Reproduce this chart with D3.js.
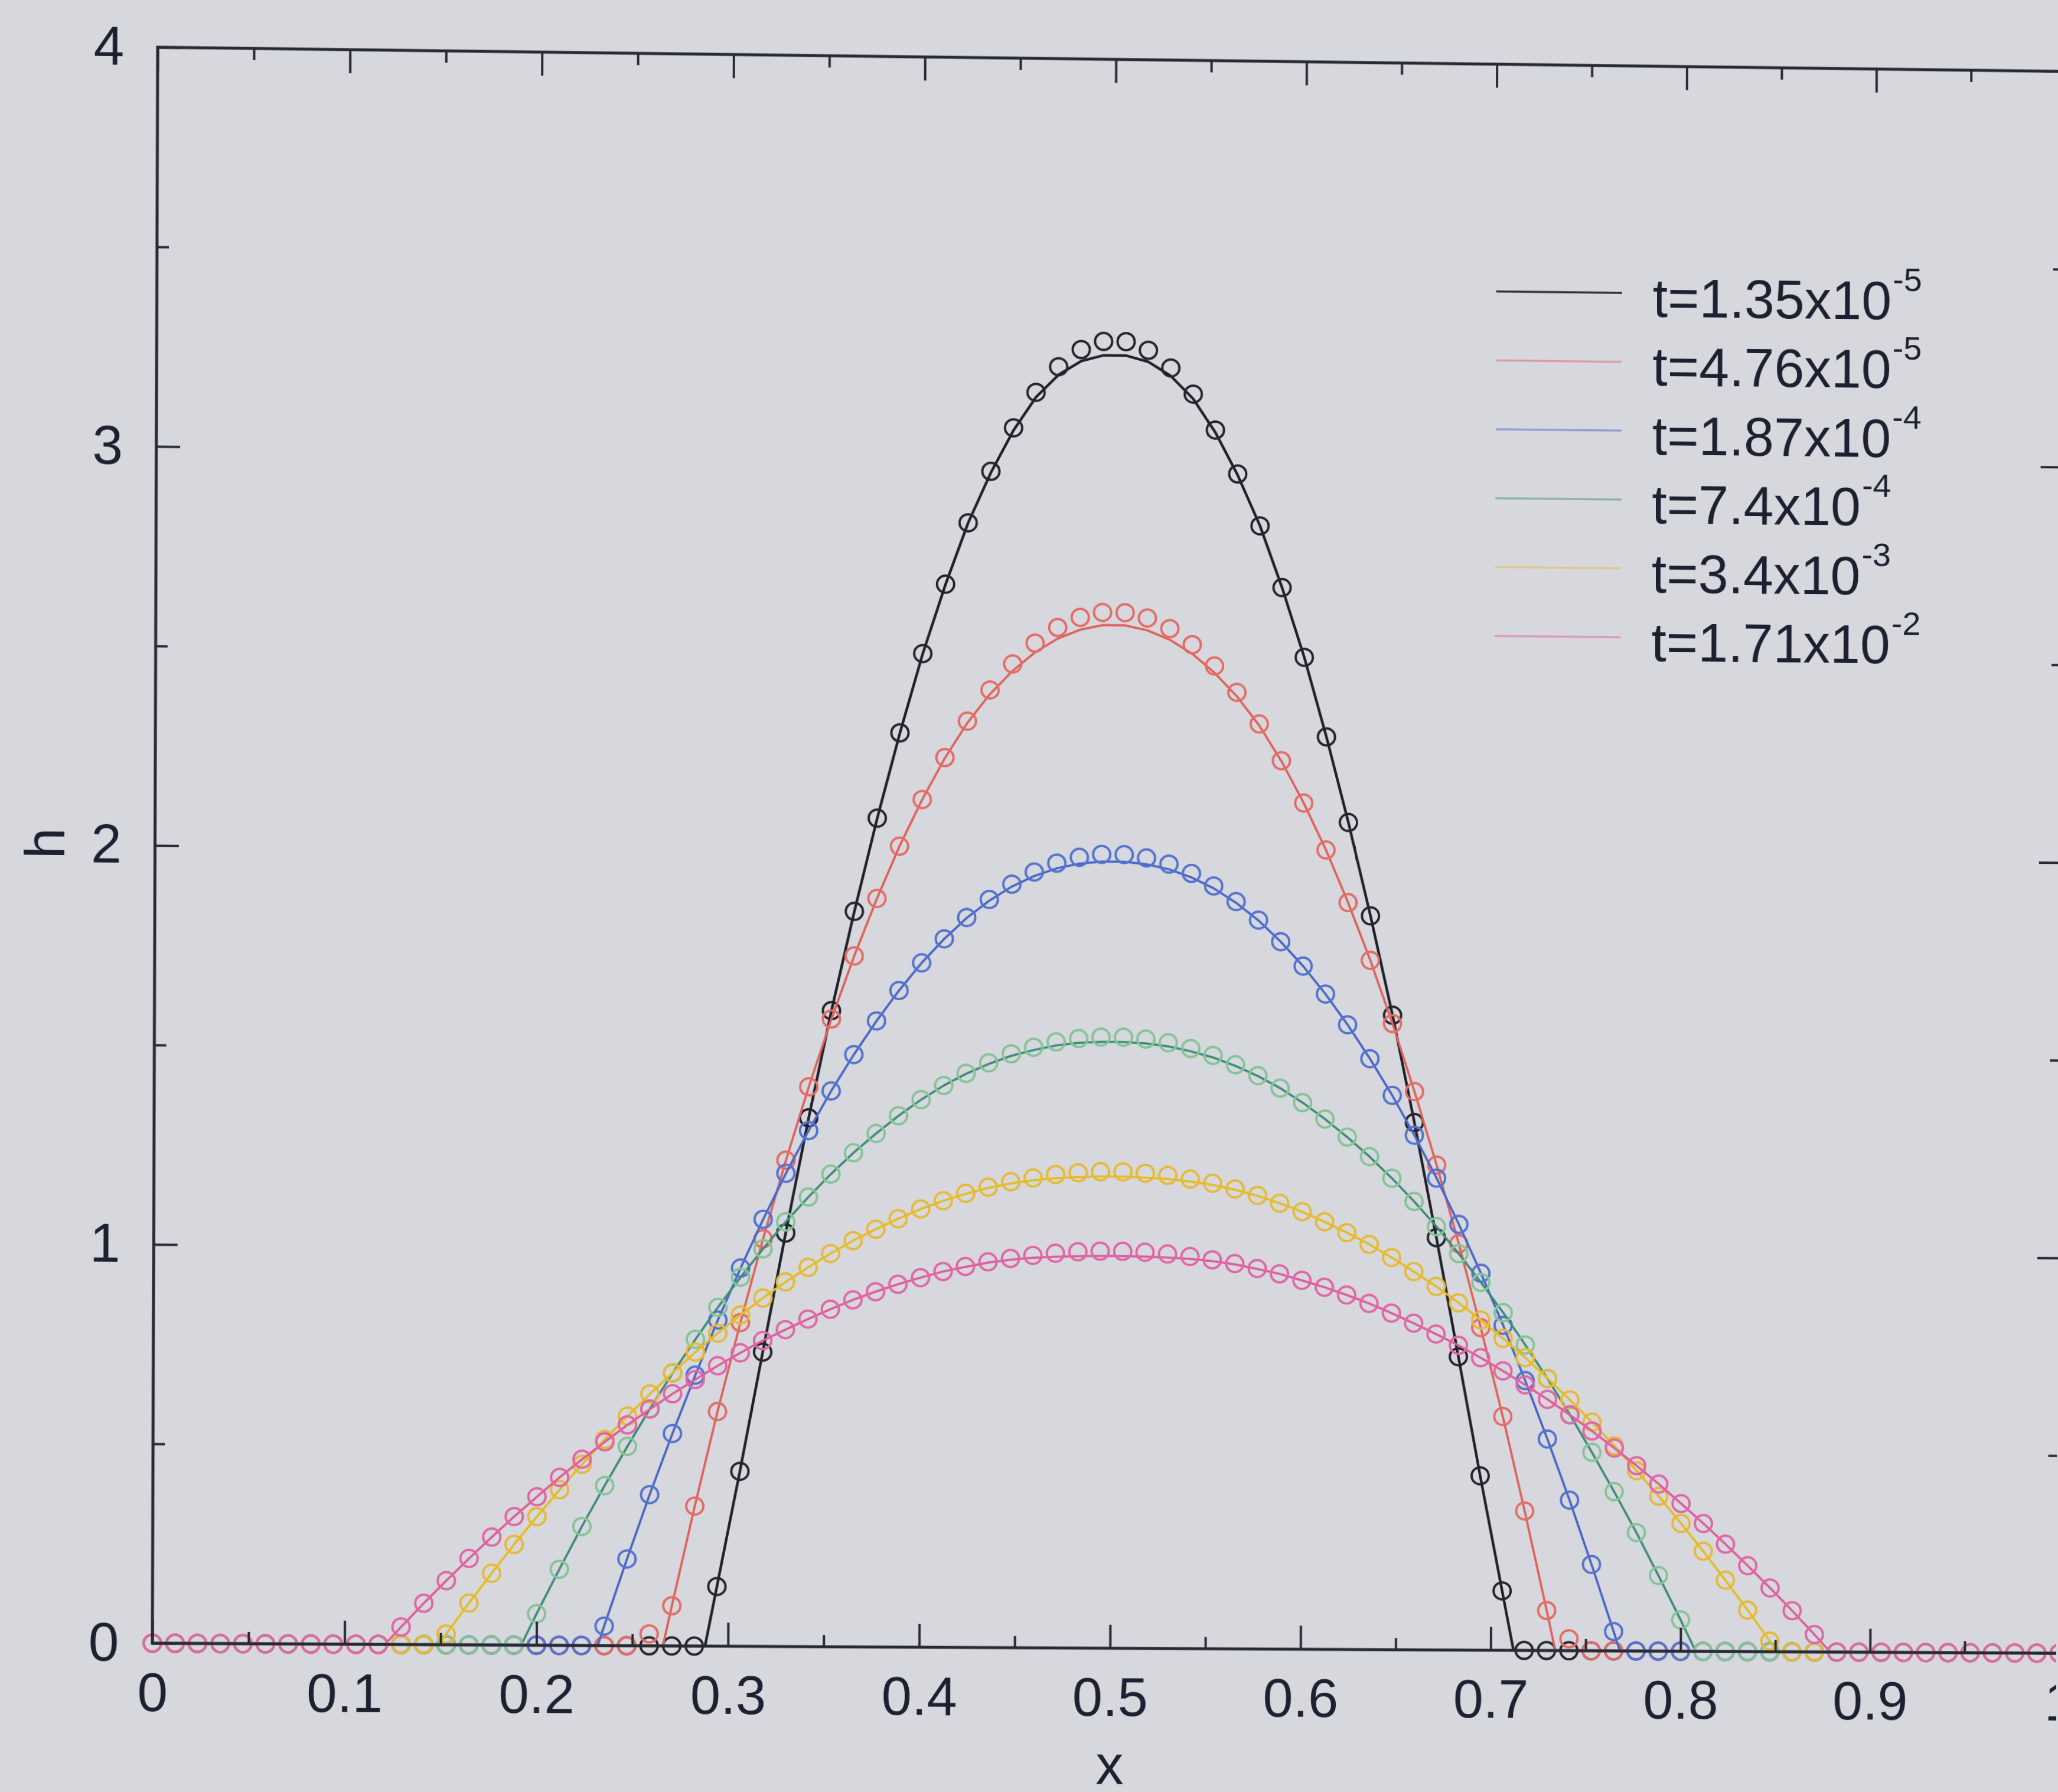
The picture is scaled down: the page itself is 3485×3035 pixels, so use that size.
<!DOCTYPE html>
<html>
<head>
<meta charset="utf-8">
<script src="https://cdn.jsdelivr.net/npm/d3@7"></script>
<style>
  html, body { margin: 0; padding: 0; width: 3485px; height: 3035px; overflow: hidden; background: #d7d8dd; }
  #chart { position: absolute; left: 0; top: 0; transform-origin: 0 0; }
  text { font-family: "Liberation Sans", Arial, Helvetica, sans-serif; fill: #1d2030; }
</style>
</head>
<body>
<svg id="chart" width="3485" height="3035"></svg>
<script>
// Grid nodes along x shared by every profile
const xGrid = [0, 0.0118, 0.0235, 0.0353, 0.0471, 0.0588, 0.0706, 0.0824, 0.0941, 0.1059,
  0.1176, 0.1294, 0.1412, 0.1529, 0.1647, 0.1765, 0.1882, 0.2000, 0.2118, 0.2235,
  0.2353, 0.2471, 0.2588, 0.2706, 0.2824, 0.2941, 0.3059, 0.3176, 0.3294, 0.3412,
  0.3529, 0.3647, 0.3765, 0.3882, 0.4000, 0.4118, 0.4235, 0.4353, 0.4471, 0.4588,
  0.4706, 0.4824, 0.4941, 0.5059, 0.5176, 0.5294, 0.5412, 0.5529, 0.5647, 0.5765,
  0.5882, 0.6000, 0.6118, 0.6235, 0.6353, 0.6471, 0.6588, 0.6706, 0.6824, 0.6941,
  0.7059, 0.7176, 0.7294, 0.7412, 0.7529, 0.7647, 0.7765, 0.7882, 0.8000, 0.8118,
  0.8235, 0.8353, 0.8471, 0.8588, 0.8706, 0.8824, 0.8941, 0.9059, 0.9176, 0.9294,
  0.9412, 0.9529, 0.9647, 0.9765, 0.9882, 1];

// h at the nodes (circles) and along the continuous curves (lines)
const hMarks1 = [0,0,0,0,0, 0,0,0,0,0, 0,0,0,0,0, 0,0,0,0,0, 0,0,0,0,0,
  0.15,0.44,0.74,1.04,1.33,1.60,1.85,2.085,2.30,2.50,2.675,2.83,2.96,3.07,3.16,3.225,3.269,3.29,
  3.29,3.269,3.225,3.16,3.07,2.96,2.83,2.675,2.50,2.30,2.085,1.85,1.60,1.33,1.04,0.74,0.44,0.15,
  0,0,0,0,0, 0,0,0,0,0, 0,0,0,0,0, 0,0,0,0,0, 0,0,0,0,0];
const hLine1 = [0,0,0,0,0, 0,0,0,0,0, 0,0,0,0,0, 0,0,0,0,0, 0,0,0,0,0,
  0.15,0.44,0.74,1.04,1.33,1.60,1.85,2.085,2.30,2.50,2.675,2.83,2.957,3.064,3.148,3.205,3.24,3.255,
  3.255,3.24,3.205,3.148,3.064,2.957,2.83,2.675,2.50,2.30,2.085,1.85,1.60,1.33,1.04,0.74,0.44,0.15,
  0,0,0,0,0, 0,0,0,0,0, 0,0,0,0,0, 0,0,0,0,0, 0,0,0,0,0];

const hMarks2 = [0,0,0,0,0, 0,0,0,0,0, 0,0,0,0,0, 0,0,0,0,0, 0,0,
  0.03,0.101,0.352,0.590,0.814,1.025,1.223,1.408,1.579,1.738,1.883,2.015,2.133,2.239,2.331,2.410,2.476,2.529,2.569,2.595,2.608,
  2.608,2.595,2.569,2.529,2.476,2.410,2.331,2.239,2.133,2.015,1.883,1.738,1.579,1.408,1.223,1.025,0.814,0.590,0.352,0.101,0.03,
  0,0,0,0,0, 0,0,0,0,0, 0,0,0,0,0, 0,0,0,0,0, 0,0];
const hLine2 = [0,0,0,0,0, 0,0,0,0,0, 0,0,0,0,0, 0,0,0,0,0, 0,0,
  0,0.101,0.352,0.590,0.814,1.025,1.223,1.408,1.579,1.738,1.883,2.015,2.133,2.238,2.327,2.400,2.459,2.506,2.541,2.564,2.576,
  2.576,2.564,2.541,2.506,2.459,2.400,2.327,2.238,2.133,2.015,1.883,1.738,1.579,1.408,1.223,1.025,0.814,0.590,0.352,0.101,0,
  0,0,0,0,0, 0,0,0,0,0, 0,0,0,0,0, 0,0,0,0,0, 0,0];

const hMarks3 = [0,0,0,0,0, 0,0,0,0,0, 0,0,0,0,0, 0,0,0,0,0,
  0.049,0.218,0.380,0.534,0.681,0.820,0.951,1.074,1.190,1.298,1.398,1.490,1.575,1.652,1.722,1.783,1.837,1.883,1.922,1.953,1.976,1.991,1.999,
  1.999,1.991,1.976,1.953,1.922,1.883,1.837,1.783,1.722,1.652,1.575,1.490,1.398,1.298,1.190,1.074,0.951,0.820,0.681,0.534,0.380,0.218,0.049,
  0,0,0,0,0, 0,0,0,0,0, 0,0,0,0,0, 0,0,0,0,0];
const hLine3 = [0,0,0,0,0, 0,0,0,0,0, 0,0,0,0,0, 0,0,0,0,0,
  0.049,0.218,0.380,0.534,0.681,0.820,0.951,1.074,1.190,1.298,1.398,1.490,1.575,1.652,1.722,1.783,1.836,1.880,1.916,1.943,1.963,1.975,1.981,
  1.981,1.975,1.963,1.943,1.916,1.880,1.836,1.783,1.722,1.652,1.575,1.490,1.398,1.298,1.190,1.074,0.951,0.820,0.681,0.534,0.380,0.218,0.049,
  0,0,0,0,0, 0,0,0,0,0, 0,0,0,0,0, 0,0,0,0,0];

const hMarks4 = [0,0,0,0,0, 0,0,0,0,0, 0,0,0,0,0, 0,0,
  0.079,0.191,0.299,0.402,0.501,0.596,0.686,0.771,0.852,0.928,1.000,1.068,1.131,1.189,1.243,1.292,1.337,1.378,1.414,1.445,1.472,1.495,1.512,1.526,1.535,1.539,
  1.539,1.535,1.526,1.512,1.495,1.472,1.445,1.414,1.378,1.337,1.292,1.243,1.189,1.131,1.068,1.000,0.928,0.852,0.771,0.686,0.596,0.501,0.402,0.299,0.191,0.079,
  0,0,0,0,0, 0,0,0,0,0, 0,0,0,0,0, 0,0];
const hLine4 = [0,0,0,0,0, 0,0,0,0,0, 0,0,0,0,0, 0,0,
  0.079,0.191,0.299,0.402,0.501,0.596,0.686,0.771,0.852,0.928,1.000,1.068,1.131,1.189,1.243,1.292,1.337,1.378,1.414,1.444,1.469,1.490,1.505,1.517,1.524,1.527,
  1.527,1.524,1.517,1.505,1.490,1.469,1.444,1.414,1.378,1.337,1.292,1.243,1.189,1.131,1.068,1.000,0.928,0.852,0.771,0.686,0.596,0.501,0.402,0.299,0.191,0.079,
  0,0,0,0,0, 0,0,0,0,0, 0,0,0,0,0, 0,0];

const hMarks5 = [0,0,0,0,0, 0,0,0,0,0, 0,0,0,
  0.027,0.105,0.180,0.253,0.323,0.391,0.455,0.518,0.577,0.633,0.687,0.739,0.787,0.833,0.876,0.917,0.954,0.989,1.022,1.051,1.078,1.103,1.124,1.143,1.159,1.173,1.183,1.192,1.197,1.200,
  1.200,1.197,1.192,1.183,1.173,1.159,1.143,1.124,1.103,1.078,1.051,1.022,0.989,0.954,0.917,0.876,0.833,0.787,0.739,0.687,0.633,0.577,0.518,0.455,0.391,0.323,0.253,0.180,0.105,0.027,
  0,0,0,0,0, 0,0,0,0,0, 0,0,0];
const hLine5 = [0,0,0,0,0, 0,0,0,0,0, 0,0,0,
  0.027,0.105,0.180,0.253,0.323,0.391,0.455,0.518,0.577,0.633,0.687,0.739,0.787,0.833,0.876,0.917,0.954,0.989,1.022,1.051,1.078,1.103,1.124,1.142,1.157,1.169,1.177,1.183,1.186,1.188,
  1.188,1.186,1.183,1.177,1.169,1.157,1.142,1.124,1.103,1.078,1.051,1.022,0.989,0.954,0.917,0.876,0.833,0.787,0.739,0.687,0.633,0.577,0.518,0.455,0.391,0.323,0.253,0.180,0.105,0.027,
  0,0,0,0,0, 0,0,0,0,0, 0,0,0];

const hMarks6 = [0,0,0,0,0, 0,0,0,0,0, 0,
  0.044,0.104,0.161,0.217,0.271,0.323,0.373,0.422,0.468,0.512,0.555,0.595,0.634,0.670,0.705,0.738,0.769,0.797,0.824,0.849,0.873,0.894,0.913,0.930,0.946,0.959,0.971,0.980,0.988,0.994,0.998,1.000,
  1.000,0.998,0.994,0.988,0.980,0.971,0.959,0.946,0.930,0.913,0.894,0.873,0.849,0.824,0.797,0.769,0.738,0.705,0.670,0.634,0.595,0.555,0.512,0.468,0.422,0.373,0.323,0.271,0.217,0.161,0.104,0.044,
  0,0,0,0,0, 0,0,0,0,0, 0];
const hLine6 = [0,0,0,0,0, 0,0,0,0,0, 0,
  0.044,0.104,0.161,0.217,0.271,0.323,0.373,0.422,0.468,0.512,0.555,0.595,0.634,0.670,0.705,0.738,0.769,0.797,0.824,0.849,0.873,0.894,0.913,0.930,0.946,0.958,0.969,0.977,0.982,0.985,0.987,0.988,
  0.988,0.987,0.985,0.982,0.977,0.969,0.958,0.946,0.930,0.913,0.894,0.873,0.849,0.824,0.797,0.769,0.738,0.705,0.670,0.634,0.595,0.555,0.512,0.468,0.422,0.373,0.323,0.271,0.217,0.161,0.104,0.044,
  0,0,0,0,0, 0,0,0,0,0, 0];

// Edges of each film (where the curve meets h = 0)
const footLeft  = [0.288, 0.266, 0.232, 0.192, 0.149, 0.121];
const footRight = [0.712, 0.734, 0.768, 0.808, 0.851, 0.879];

// Legend text: mantissa and power of ten
const legendBase = ["t=1.35x10", "t=4.76x10", "t=1.87x10", "t=7.4x10", "t=3.4x10", "t=1.71x10"];
const legendExp  = ["-5", "-5", "-4", "-4", "-3", "-2"];

const lineColors = ["#1f2129", "#e0615b", "#4866c6", "#3e8c7a", "#e3bd22", "#de5c9c"];
const markColors = ["#23252d", "#e36c66", "#5472cf", "#84c496", "#e6b936", "#e066a6"];

// Axis ticks
const xMajor = [0, 0.1, 0.2, 0.3, 0.4, 0.5, 0.6, 0.7, 0.8, 0.9, 1];
const xMajorLabels = ["0", "0.1", "0.2", "0.3", "0.4", "0.5", "0.6", "0.7", "0.8", "0.9", "1"];
const xMinor = [0.05, 0.15, 0.25, 0.35, 0.45, 0.55, 0.65, 0.75, 0.85, 0.95];
const yMajor = [0, 1, 2, 3, 4];
const yMajorLabels = ["0", "1", "2", "3", "4"];
const yMinor = [0.5, 1.5, 2.5, 3.5];

const marksAll = [hMarks1, hMarks2, hMarks3, hMarks4, hMarks5, hMarks6];
const linesAll = [hLine1, hLine2, hLine3, hLine4, hLine5, hLine6];

// ---- layout ----
const L = 262, R = 3490, T = 80, B = 2783;
const svg = d3.select("#chart");
svg.append("rect").attr("width", 3485).attr("height", 3035).attr("fill", "#d7d8dd");

const x = d3.scaleLinear().domain([0, 1]).range([L, R]);
const y = d3.scaleLinear().domain([0, 4]).range([B, T]);

const FS = 92;
const frameColor = "#272a34";

// profiles: line first, then its circles
const lineGen = d3.line().x(d => x(d[0])).y(d => y(d[1]));
const plot = svg.append("g");
marksAll.forEach((marks, s) => {
  const pts = [[0, 0], [footLeft[s], 0]];
  xGrid.forEach((xv, i) => {
    if (xv > footLeft[s] && xv < footRight[s]) pts.push([xv, linesAll[s][i]]);
  });
  pts.push([footRight[s], 0], [1, 0]);
  plot.append("path")
    .attr("d", lineGen(pts))
    .attr("fill", "none")
    .attr("stroke", lineColors[s])
    .attr("stroke-width", s === 0 ? 4.5 : 3.8)
    .attr("stroke-linejoin", "round");
  plot.append("g").selectAll("circle")
    .data(marks.map((h, i) => [xGrid[i], h]))
    .join("circle")
    .attr("cx", d => x(d[0]))
    .attr("cy", d => y(d[1]))
    .attr("r", 14.5)
    .attr("fill", "none")
    .attr("stroke", markColors[s])
    .attr("stroke-width", 4);
});

// axes: inward ticks on all four sides
function styleAxis(g) {
  g.select(".domain").remove();
  g.selectAll("line").attr("stroke", frameColor).attr("stroke-width", 4);
  g.selectAll("text").attr("font-size", FS).attr("fill", "#1d2030")
    .attr("font-family", "'Liberation Sans', Arial, Helvetica, sans-serif");
}
svg.append("g").attr("transform", `translate(0,${B})`)
  .call(d3.axisBottom(x).tickValues(xMajor).tickSizeInner(-40).tickSizeOuter(0).tickPadding(50)
    .tickFormat((d, i) => xMajorLabels[i]))
  .call(styleAxis);
svg.append("g").attr("transform", `translate(0,${B})`)
  .call(d3.axisBottom(x).tickValues(xMinor).tickSizeInner(-20).tickSizeOuter(0).tickFormat(""))
  .call(styleAxis);
svg.append("g").attr("transform", `translate(0,${T})`)
  .call(d3.axisTop(x).tickValues(xMajor).tickSizeInner(-40).tickSizeOuter(0).tickFormat(""))
  .call(styleAxis);
svg.append("g").attr("transform", `translate(0,${T})`)
  .call(d3.axisTop(x).tickValues(xMinor).tickSizeInner(-20).tickSizeOuter(0).tickFormat(""))
  .call(styleAxis);
svg.append("g").attr("transform", `translate(${L},0)`)
  .call(d3.axisLeft(y).tickValues(yMajor).tickSizeInner(-40).tickSizeOuter(0).tickPadding(56)
    .tickFormat((d, i) => yMajorLabels[i]))
  .call(styleAxis);
svg.append("g").attr("transform", `translate(${L},0)`)
  .call(d3.axisLeft(y).tickValues(yMinor).tickSizeInner(-20).tickSizeOuter(0).tickFormat(""))
  .call(styleAxis);
svg.append("g").attr("transform", `translate(${R},0)`)
  .call(d3.axisRight(y).tickValues(yMajor).tickSizeInner(-40).tickSizeOuter(0).tickFormat(""))
  .call(styleAxis);
svg.append("g").attr("transform", `translate(${R},0)`)
  .call(d3.axisRight(y).tickValues(yMinor).tickSizeInner(-20).tickSizeOuter(0).tickFormat(""))
  .call(styleAxis);

// frame
svg.append("rect")
  .attr("x", L).attr("y", T).attr("width", R - L).attr("height", B - T)
  .attr("fill", "none").attr("stroke", frameColor).attr("stroke-width", 5);

// axis titles
svg.append("text")
  .attr("x", x(0.5)).attr("y", 3014)
  .attr("text-anchor", "middle").attr("font-size", 94)
  .text("x");
svg.append("text")
  .attr("transform", `translate(110,${y(2) - 2}) rotate(-90)`)
  .attr("text-anchor", "middle").attr("font-size", 94)
  .text("h");

// legend
const legend = svg.append("g");
legendBase.forEach((label, i) => {
  const ly = 467 + i * 117.4;
  legend.append("line")
    .attr("x1", 2522).attr("x2", 2736).attr("y1", ly).attr("y2", ly)
    .attr("stroke", lineColors[i])
    .attr("stroke-opacity", i === 0 ? 0.9 : 0.5)
    .attr("stroke-width", 3.5);
  const t = legend.append("text")
    .attr("x", 2788).attr("y", ly + 40)
    .attr("font-size", FS);
  t.append("tspan").text(label);
  t.append("tspan").attr("dy", -49).attr("dx", 2).attr("font-size", 56).text(legendExp[i]);
});

// the printed page was photographed at a slight angle: map the frame
// corners onto where they sit in the photograph
function homography(src, dst) {
  const A = [], b = [];
  for (let i = 0; i < 4; i++) {
    const [sx, sy] = src[i], [dx, dy] = dst[i];
    A.push([sx, sy, 1, 0, 0, 0, -sx * dx, -sy * dx]); b.push(dx);
    A.push([0, 0, 0, sx, sy, 1, -sx * dy, -sy * dy]); b.push(dy);
  }
  const n = 8;
  for (let c = 0; c < n; c++) {
    let p = c;
    for (let r = c + 1; r < n; r++) if (Math.abs(A[r][c]) > Math.abs(A[p][c])) p = r;
    [A[c], A[p]] = [A[p], A[c]]; [b[c], b[p]] = [b[p], b[c]];
    for (let r = 0; r < n; r++) {
      if (r === c) continue;
      const f = A[r][c] / A[c][c];
      for (let k = c; k < n; k++) A[r][k] -= f * A[c][k];
      b[r] -= f * b[c];
    }
  }
  return b.map((v, i) => v / A[i][i]);
}
const [ha, hb, hc, hd, he, hf, hg, hh] = homography(
  [[L, T], [R, T], [R, B], [L, B]],
  [[267, 80], [3498, 121], [3487, 2800], [258, 2783]]);
document.getElementById("chart").style.transform =
  `matrix3d(${ha},${hd},0,${hg},${hb},${he},0,${hh},0,0,1,0,${hc},${hf},0,1)`;
</script>
</body>
</html>
